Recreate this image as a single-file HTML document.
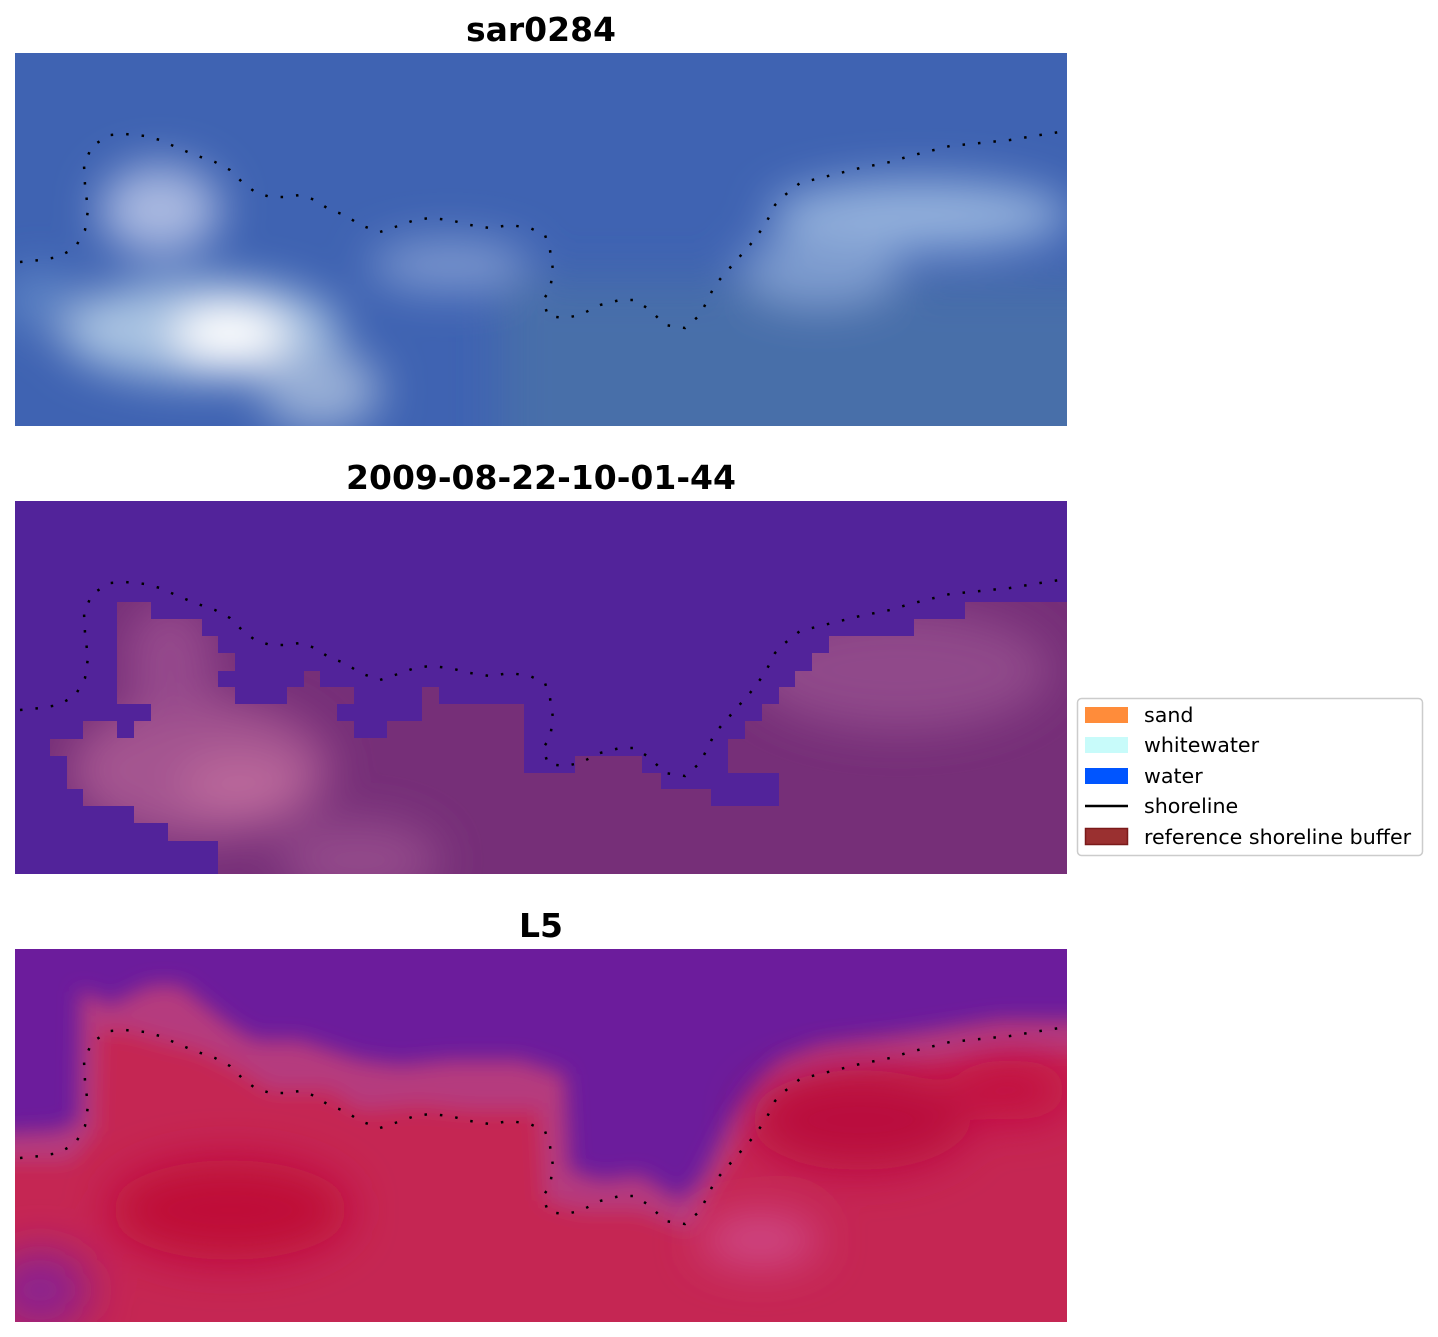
<!DOCTYPE html>
<html><head><meta charset="utf-8"><style>
body{margin:0;background:#fff;}
svg{display:block;}
text{font-family:"DejaVu Sans","Liberation Sans",sans-serif;}
</style></head><body>
<svg width="1438" height="1337" viewBox="0 0 1438 1337" xmlns="http://www.w3.org/2000/svg">
<defs>
<filter id="b1" x="-50%" y="-50%" width="200%" height="200%"><feGaussianBlur stdDeviation="22"/></filter>
<filter id="b2" x="-50%" y="-50%" width="200%" height="200%"><feGaussianBlur stdDeviation="10"/></filter>
<clipPath id="c1"><rect x="15" y="53" width="1052" height="373"/></clipPath>
<clipPath id="c2"><rect x="15" y="501" width="1052" height="373"/></clipPath>
<clipPath id="c3"><rect x="15" y="949" width="1052" height="373"/></clipPath>
<clipPath id="land2"><polygon points="117,602 151,602 151,619 202,619 202,636 218,636 218,653 235,653 235,671 218,671 218,687 235,687 235,704 287,704 287,687 304,687 304,671 320,671 320,687 354,687 354,704 337,704 337,721 354,721 354,738 387,738 387,721 422,721 422,687 439,687 439,704 524,704 524,773 575,773 575,756 642,756 642,773 661,773 661,789 711,789 711,806 779,806 779,773 728,773 728,739 745,739 745,721 762,721 762,704 779,704 779,687 795,687 795,671 812,671 812,653 829,653 829,636 914,636 914,619 965,619 965,602 1067,602 1067,874 218,874 218,841 168,841 168,823 134,823 134,806 83,806 83,789 67,789 67,756 50,756 50,739 83,739 83,721 117,721 117,738 134,738 134,721 151,721 151,704 117,704"/></clipPath>
<polyline id="shore" fill="none" stroke="#000" stroke-width="2.5" stroke-dasharray="2.5 13" points="20,262 40,260 58,257 75,248 85,230 88,210 85,185 84,165 92,146 110,135 125,134 145,136 160,140 178,148 195,155 215,162 230,170 242,182 255,192 270,197 285,197 300,195 315,200 330,210 345,215 360,225 380,232 395,227 415,220 430,218 450,220 470,225 490,228 510,225 530,228 545,235 550,250 553,270 550,290 543,300 548,316 565,318 580,315 600,305 620,300 635,300 650,310 665,325 685,328 700,315 715,285 735,262 750,245 765,225 775,205 785,195 800,183 820,178 840,173 860,168 890,162 910,156 930,151 950,146 980,143 1010,140 1040,135 1060,132"/>
</defs>

<!-- Panel 1 -->
<text x="541" y="41" font-size="33" font-weight="bold" text-anchor="middle">sar0284</text>
<g clip-path="url(#c1)">
<rect x="15" y="53" width="1052" height="373" fill="#3f63b2"/>
<g filter="url(#b1)">
<rect x="500" y="280" width="620" height="200" fill="#4b72a8" opacity="0.8"/>
<ellipse cx="160" cy="210" rx="60" ry="45" fill="#a8b8e0"/>
<ellipse cx="200" cy="330" rx="140" ry="50" fill="#a9c3e2"/>
<ellipse cx="230" cy="335" rx="55" ry="30" fill="#ffffff"/>
<ellipse cx="320" cy="390" rx="60" ry="40" fill="#97aed6"/>
<ellipse cx="450" cy="265" rx="80" ry="25" fill="#7d98cf"/>
<ellipse cx="920" cy="215" rx="150" ry="35" fill="#93b0dc"/>
<ellipse cx="820" cy="270" rx="80" ry="35" fill="#7e9ccf"/>
<ellipse cx="40" cy="300" rx="40" ry="30" fill="#5b82c4"/>
</g>
</g>
<use href="#shore"/>

<!-- Panel 2 -->
<text x="541" y="489" font-size="33" font-weight="bold" text-anchor="middle">2009-08-22-10-01-44</text>
<g clip-path="url(#c2)">
<rect x="15" y="501" width="1052" height="373" fill="#52239a"/>
<g clip-path="url(#land2)">
<rect x="15" y="501" width="1052" height="373" fill="#762f78"/>
<g filter="url(#b1)">
<ellipse cx="200" cy="770" rx="130" ry="70" fill="#a45590"/>
<ellipse cx="240" cy="785" rx="60" ry="25" fill="#bd6a9c"/>
<ellipse cx="170" cy="660" rx="45" ry="60" fill="#95498c"/>
<ellipse cx="900" cy="670" rx="150" ry="60" fill="#904a8a"/>
<ellipse cx="360" cy="860" rx="80" ry="40" fill="#93498a"/>
</g>
</g>
</g>
<use href="#shore" transform="translate(0,448)"/>

<!-- Panel 3 -->
<text x="541" y="937" font-size="33" font-weight="bold" text-anchor="middle">L5</text>
<g clip-path="url(#c3)">
<rect x="15" y="949" width="1052" height="373" fill="#6c1c9c"/>
<g filter="url(#b2)">
<polygon fill="#b53b7e" points="-40,1135 60,1130 78,1120 80,990 110,1005 150,985 180,985 230,1025 255,1040 300,1040 360,1060 400,1065 450,1060 520,1060 565,1075 570,1170 600,1180 640,1175 680,1200 700,1180 730,1120 760,1080 780,1060 820,1045 900,1035 1000,1020 1120,1020 1120,1380 -40,1380"/>
<polygon fill="#c52552" points="-40,1160 70,1160 95,1130 98,1030 125,1030 160,1040 200,1050 240,1070 270,1090 330,1090 360,1110 420,1105 470,1110 540,1110 545,1200 580,1210 640,1210 690,1230 710,1190 740,1140 780,1090 830,1075 900,1065 1000,1055 1120,1050 1120,1380 -40,1380"/>
</g>
<g filter="url(#b1)">
<ellipse cx="230" cy="1210" rx="120" ry="50" fill="#bf0738"/>
<ellipse cx="860" cy="1120" rx="110" ry="50" fill="#ba0a3c"/>
<ellipse cx="1010" cy="1090" rx="60" ry="30" fill="#c3103f"/>
<ellipse cx="40" cy="1290" rx="50" ry="40" fill="#8a2090"/>
<ellipse cx="760" cy="1240" rx="60" ry="25" fill="#cf4a88"/>
</g>
</g>
<use href="#shore" transform="translate(0,896)"/>

<!-- Legend -->
<rect x="1077.5" y="698.5" width="345" height="157" rx="4" fill="#fff" stroke="#cccccc" stroke-width="1.5"/>
<rect x="1085" y="707" width="43" height="16" fill="#ff8c3a"/>
<text x="1144" y="722" font-size="20.6">sand</text>
<rect x="1085" y="737" width="43" height="16" fill="#c8fbfa"/>
<text x="1144" y="752" font-size="20.6">whitewater</text>
<rect x="1085" y="768" width="43" height="16" fill="#0055ff"/>
<text x="1144" y="783" font-size="20.6">water</text>
<line x1="1085" y1="806" x2="1128" y2="806" stroke="#000" stroke-width="2.5"/>
<text x="1144" y="813" font-size="20.6">shoreline</text>
<rect x="1085.5" y="828.5" width="42" height="16" fill="#9a3030" stroke="#7a1a1a" stroke-width="1.5"/>
<text x="1144" y="844" font-size="20.6">reference shoreline buffer</text>
</svg>
</body></html>
